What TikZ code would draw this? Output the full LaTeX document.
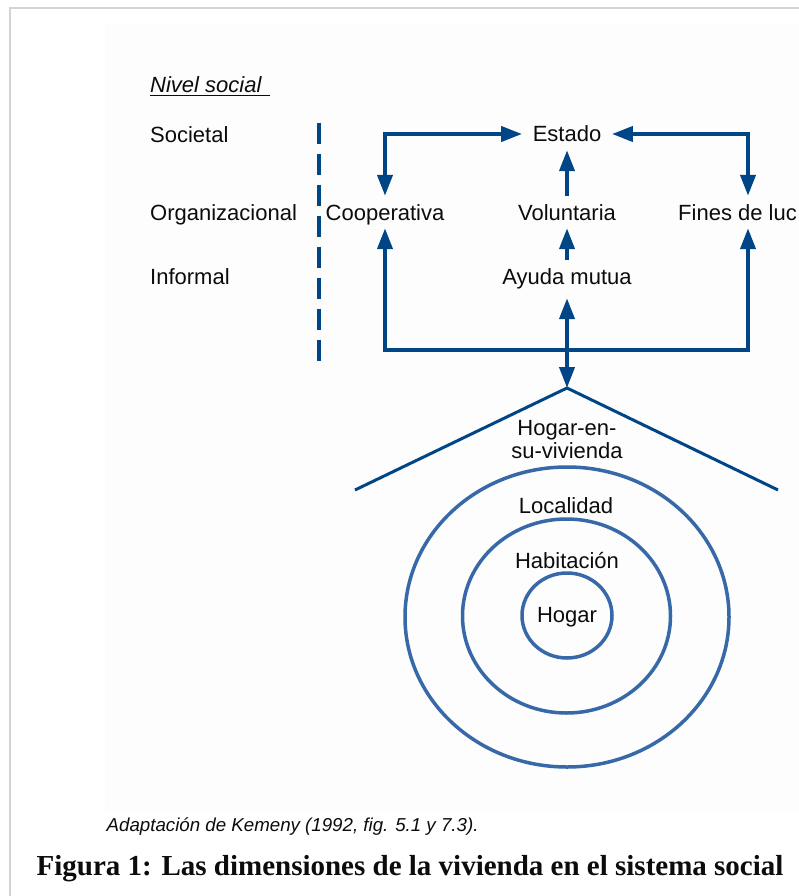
\documentclass[tikz,border=0pt]{standalone}
\usepackage{fontspec}
\setmainfont{Liberation Sans}
\newfontfamily\capserif{Liberation Serif}
\usetikzlibrary{arrows.meta}
\definecolor{linkblue}{RGB}{0,69,134}
\definecolor{ringblue}{RGB}{55,105,168}
\definecolor{framegray}{RGB}{212,212,212}
\definecolor{panel}{RGB}{253,253,253}
\definecolor{ink}{RGB}{12,12,12}
\tikzset{bigtri/.tip={Triangle[length=21pt,width=15pt]}}

\begin{document}
\begin{tikzpicture}[x=1pt,y=-1pt,
  every node/.style={text=ink, font=\fontsize{22}{26}\selectfont},
  lvl/.style={anchor=base west, inner sep=0pt},
  item/.style={text height=16pt, text depth=0pt, inner xsep=10.5pt, inner ysep=8pt},
  ringlabel/.style={anchor=base, inner sep=0pt},
  link/.style={draw=linkblue, line width=4pt, -bigtri},
  duallink/.style={draw=linkblue, line width=4pt, bigtri-bigtri},
  divider/.style={draw=linkblue, line width=4pt, dash pattern=on 21.5pt off 9.5pt},
  roof/.style={draw=linkblue, line width=3pt},
  ring/.style={draw=ringblue, line width=3.5pt}]

% page and frame
\useasboundingbox (0,0) rectangle (799,896);
\fill[white] (0,0) rectangle (799,896);
\fill[panel] (105,23) rectangle (799,812);
\draw[framegray, line width=1.5pt] (10,896) -- (10,8) -- (799,8);

% level labels
\node[lvl] (nivel) at (150,92.7) {\itshape Nivel social};
\draw[ink, line width=1.3pt] (nivel.base west) ++(0,2.6) -- ++(120,0);
\node[lvl] (soc) at (150,142.5) {Societal};
\node[lvl] (org) at (150,220) {Organizacional};
\node[lvl] (inf) at (150,284) {Informal};

% dashed divider
\coordinate (divtop) at (319,122.7);
\coordinate (divbot) at (319,362);
\draw[divider] (divtop) -- (divbot);

% organisations
\node[item] (estado) at (567,134) {Estado};
\node[item] (coop) at (385,212) {Cooperativa};
\node[item] (vol) at (567,212) {Voluntaria};
\node[item, anchor=west] (fines) at (667.5,212) {Fines de luc};
\node[item] (ayuda) at (567,276) {Ayuda mutua};

\coordinate (cR) at (748,350);
\coordinate (apex) at (567,388);
\coordinate (roofL) at (355,490);
\coordinate (roofR) at (778,490);

% connectors
\draw[duallink] (coop.north) |- (estado.west);
\draw[duallink] (estado.east) -| (fines.north -| cR);
\draw[link] (vol.north) -- (estado.south);
\draw[link] (ayuda.north) -- (vol.south);
\draw[duallink] (coop.south) |- (cR) -- (fines.south -| cR);
\draw[duallink, shorten >=6pt] (apex) -- (ayuda.south);

% roof of the dwelling
\draw[roof] (roofL) -- (apex) -- (roofR);
\node[ringlabel] (hogarA) at (567,435) {Hogar-en-};
\node[ringlabel] (hogarB) at (567,458.5) {su-vivienda};

% nested rings
\draw[ring] (567,617) ellipse [x radius=162pt, y radius=150pt];
\draw[ring] (566.5,616) ellipse [x radius=104pt, y radius=97pt];
\draw[ring] (567,615.5) ellipse [x radius=45pt, y radius=42.5pt];
\node[ringlabel] (loc) at (566,513.3) {Localidad};
\node[ringlabel] (hab) at (567,568.3) {Habitación};
\node[ringlabel] (hog) at (567,622.7) {Hogar};

% source and caption
\node[anchor=base west, inner sep=0pt, font=\fontsize{18.7}{22}\selectfont\itshape] (src) at (106.5,831.7) {Adaptación de Kemeny (1992, fig. 5.1 y 7.3).};
\node[anchor=base west, inner sep=0pt, font=\capserif\bfseries\fontsize{29}{34}\selectfont] (cap) at (36.5,875) {Figura 1: Las dimensiones de la vivienda en el sistema social};
\end{tikzpicture}
\end{document}
